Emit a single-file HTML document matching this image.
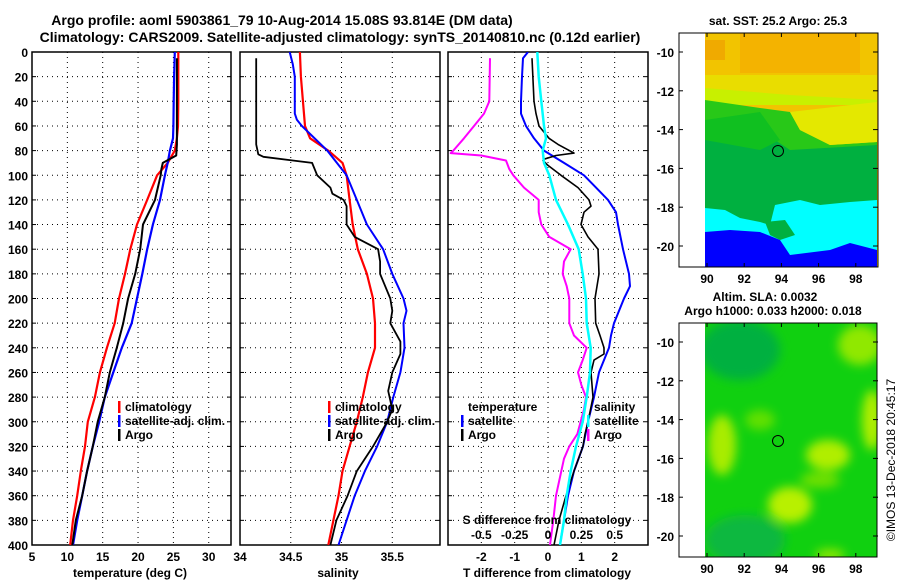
<!DOCTYPE html>
<html><head><meta charset="utf-8"><style>
html,body{margin:0;padding:0;background:#fff;}
svg{display:block;font-family:"Liberation Sans",sans-serif;font-weight:bold;}
</style></head><body>
<svg id="chart" width="900" height="580" viewBox="0 0 900 580" xmlns="http://www.w3.org/2000/svg">
<defs>
<filter id="blur4" x="-30%" y="-30%" width="160%" height="160%"><feGaussianBlur stdDeviation="5"/></filter>
<clipPath id="clipTop"><rect x="705" y="33" width="173" height="234"/></clipPath>
<clipPath id="clipBot"><rect x="705" y="323" width="172" height="234"/></clipPath>
<clipPath id="c1"><rect x="32" y="52" width="199" height="493"/></clipPath>
<clipPath id="c2"><rect x="240" y="52" width="200" height="493"/></clipPath>
<clipPath id="c3"><rect x="448" y="52" width="200" height="493"/></clipPath>
</defs>
<text x="282" y="25" font-size="14" text-anchor="middle">Argo profile: aoml 5903861_79 10-Aug-2014 15.08S 93.814E (DM data)</text>
<text x="340" y="42" font-size="14" text-anchor="middle">Climatology: CARS2009. Satellite-adjusted climatology: synTS_20140810.nc (0.12d earlier)</text>

<g>
<text x="778" y="25" font-size="12" text-anchor="middle">sat. SST: 25.2 Argo: 25.3</text>
<g clip-path="url(#clipTop)">
<rect x="705" y="33" width="173" height="234" fill="#f2c400"/>
<rect x="740" y="33" width="120" height="40" fill="#f5a800" opacity="0.6"/>
<rect x="705" y="40" width="20" height="20" fill="#f0a000" opacity="0.7"/>
<polygon points="705,75 877,75 877,100 705,100" fill="#e6e400" opacity="0.8"/>
<polygon points="705,88 790,95 877,100 877,105 705,105" fill="#c8f000"/>
<polygon points="705,100 760,108 790,112 800,130 830,145 877,142 877,267 705,267" fill="#28c818"/>
<polygon points="790,112 877,102 877,142 830,145 800,130" fill="#e4e800"/>
<polygon points="705,120 760,130 790,150 877,145 877,267 705,267" fill="#00b040"/>
<polygon points="705,120 760,112 780,140 760,150 705,140" fill="#10c020"/>
<polygon points="705,208 725,210 740,218 760,222 770,225 775,205 800,200 820,205 850,202 877,200 877,267 705,267" fill="#00ffff"/>
<polygon points="765,222 785,220 795,235 780,240 770,235" fill="#00b040"/>
<polygon points="705,232 730,230 760,232 780,240 790,255 830,250 850,243 877,250 877,267 705,267" fill="#0000ff"/>
</g>
<rect x="679" y="33" width="199" height="234" fill="none" stroke="#000" stroke-width="1"/>
<circle cx="778" cy="151" r="5.5" fill="none" stroke="#000" stroke-width="1"/>
</g>

<g>
<text x="765" y="301" font-size="12" text-anchor="middle">Altim. SLA: 0.0032</text>
<text x="773" y="315" font-size="12" text-anchor="middle">Argo h1000: 0.033 h2000: 0.018</text>
<g clip-path="url(#clipBot)">
<rect x="705" y="323" width="172" height="234" fill="#10d010"/>
<g filter="url(#blur4)">
<ellipse cx="740" cy="350" rx="40" ry="30" fill="#00b040"/>
<ellipse cx="745" cy="540" rx="40" ry="25" fill="#10b840"/>
<ellipse cx="860" cy="345" rx="22" ry="20" fill="#90e800"/>
<ellipse cx="722" cy="445" rx="14" ry="30" fill="#a8ec00"/>
<ellipse cx="760" cy="420" rx="15" ry="10" fill="#60e000"/>
<ellipse cx="828" cy="455" rx="22" ry="15" fill="#b0ee00"/>
<ellipse cx="872" cy="420" rx="10" ry="30" fill="#b0ee00"/>
<ellipse cx="790" cy="505" rx="22" ry="18" fill="#b8f000"/>
<ellipse cx="820" cy="480" rx="20" ry="8" fill="#70e000"/>
<ellipse cx="830" cy="555" rx="15" ry="6" fill="#90e800"/>
</g>
</g>
<rect x="679" y="323" width="198" height="234" fill="none" stroke="#000" stroke-width="1"/>
<circle cx="778" cy="441" r="5.5" fill="none" stroke="#000" stroke-width="1"/>
</g>
<text transform="translate(895,460) rotate(-90)" font-size="12" font-weight="normal" text-anchor="middle">©IMOS 13-Dec-2018 20:45:17</text>

<g id="plots"></g>
</svg>
<script>
// ---- depth grids and series ----
const depthTicks = [0,20,40,60,80,100,120,140,160,180,200,220,240,260,280,300,320,340,360,380,400];
const tempTicks = [5,10,15,20,25,30];
const salTicks = [34,34.5,35,35.5];
const tdiffTicks = [-2,-1,0,1,2];
const sdiffTicks = [-0.5,-0.25,0,0.25,0.5];
const sdiffTickLabels = ["-0.5","-0.25","0","0.25","0.5"];

const depthTempClim = [0,20,40,60,70,80,90,100,120,140,160,180,200,220,240,260,280,300,320,340,360,380,400];
const tempClim = [25.7,25.7,25.7,25.65,25.5,25.2,24.2,22.7,21.3,19.85,18.9,18.15,17.3,16.7,15.6,14.6,13.9,12.9,12.5,11.9,11.4,10.8,10.4];
const depthTempSat = [0,20,40,60,70,80,90,100,120,140,160,180,200,220,240,260,280,300,320,340,360,380,400];
const tempSat = [25.2,25.1,25.05,25.0,24.95,24.5,24.2,23.8,23.1,22.1,21.3,20.6,19.85,19.1,17.7,16.5,15.3,14.5,13.6,12.8,12.1,11.4,10.8];
const depthTempArgo = [5,40,75,84,90,95,100,120,140,160,180,200,220,240,260,280,300,320,340,360,380,400];
const tempArgo = [25.5,25.5,25.5,25.4,23.5,23.3,23.2,22.4,20.7,20.3,19.6,18.6,17.9,17.0,16.0,15.3,14.3,13.6,12.8,12.1,11.2,10.7];

const depthSalClim = [0,20,60,70,80,90,100,120,140,160,180,200,220,240,260,280,300,320,340,360,380,400];
const salClim = [34.59,34.6,34.64,34.69,34.87,35.01,35.05,35.08,35.11,35.16,35.25,35.31,35.33,35.33,35.26,35.21,35.15,35.08,35.01,34.97,34.92,34.87];
const depthSalSat = [0,10,20,50,55,60,80,100,120,140,160,180,200,210,220,240,260,280,300,320,340,360,380,400];
const salSat = [34.49,34.52,34.54,34.54,34.56,34.61,34.86,35.05,35.15,35.25,35.41,35.5,35.61,35.64,35.61,35.62,35.58,35.51,35.45,35.35,35.23,35.13,35.05,34.97];
const depthSalArgo = [5,75,83,85,88,90,100,110,115,120,125,140,150,160,170,180,200,210,220,235,245,260,275,290,300,320,340,360,380,400];
const salArgo = [34.16,34.16,34.18,34.23,34.52,34.71,34.76,34.89,34.91,35.02,35.05,35.05,35.13,35.36,35.38,35.38,35.48,35.5,35.48,35.58,35.58,35.5,35.46,35.5,35.45,35.31,35.15,35.06,34.95,34.89];

const depthTdSat = [0,5,20,40,50,60,70,80,90,100,110,120,130,140,160,180,190,200,220,230,240,260,280,300,320,340,360,380,400];
const tdiffSat = [-0.6,-0.75,-0.78,-0.81,-0.81,-0.66,-0.42,-0.12,0.48,1.08,1.44,1.8,2.04,2.1,2.25,2.43,2.46,2.28,1.98,1.89,1.83,1.53,1.38,1.2,1.05,0.78,0.6,0.48,0.36];
const depthTdArgo = [5,40,50,60,70,75,82,84,87,88,92,100,110,120,125,130,140,150,160,180,200,220,230,240,245,250,260,280,300,310,320,340,360,380,400];
const tdiffArgo = [-0.48,-0.42,-0.36,-0.27,0.03,0.3,0.78,0.24,-0.12,-0.15,0,0.39,0.9,1.23,1.29,1.08,0.99,1.2,1.5,1.53,1.41,1.43,1.56,1.68,1.68,1.38,1.29,1.35,1.2,1.11,1.05,0.78,0.54,0.33,0.18];
const depthSdSat = [0,20,40,60,70,80,90,100,120,140,160,180,200,220,240,260,280,300,320,340,360,380,400];
const sdiffSat = [-0.08,-0.07,-0.05,-0.03,-0.015,-0.04,-0.03,0.01,0.06,0.15,0.23,0.26,0.285,0.29,0.32,0.315,0.29,0.26,0.21,0.17,0.14,0.12,0.09];
const depthSdArgo = [5,40,50,60,70,80,82,84,88,95,100,110,120,130,140,150,160,170,180,190,200,220,230,240,250,260,270,280,290,310,320,330,340,360,380,400];
const sdiffArgo = [-0.435,-0.44,-0.48,-0.555,-0.63,-0.71,-0.73,-0.5,-0.315,-0.29,-0.26,-0.18,-0.07,-0.07,-0.05,0.01,0.17,0.12,0.11,0.14,0.16,0.16,0.195,0.29,0.26,0.225,0.25,0.285,0.27,0.22,0.16,0.12,0.10,0.06,0.04,0.015];

const mapLatTicks = [-10,-12,-14,-16,-18,-20];
const mapLonTicks = [90,92,94,96,98];

const NS = "http://www.w3.org/2000/svg";
const root = document.getElementById('plots');
function el(tag, attrs, parent){ const e=document.createElementNS(NS,tag); for(const k in attrs) e.setAttribute(k,attrs[k]); (parent||root).appendChild(e); return e; }
const Y0=52, Y1=545;
function yD(d){ return Y0 + d/400*(Y1-Y0); }
const panels = [
  {x0:32,x1:231,v0:5,v1:33.15,clip:'c1'},
  {x0:240,x1:440,v0:34,v1:35.97,clip:'c2'},
  {x0:448,x1:648,v0:-3,v1:3,clip:'c3'}
];
function xP(p,v){ return p.x0 + (v-p.v0)/(p.v1-p.v0)*(p.x1-p.x0); }

function frame(p, xTicks, name){
  const g = el('g',{});
  
  
  depthTicks.forEach(d=>{ if(d>0&&d<400){
    const l=el('line',{x1:p.x0,x2:p.x1,y1:yD(d),y2:yD(d),stroke:'#000','stroke-width':1,'stroke-dasharray':'1,4'},g);
    
    
    el('line',{x1:p.x0,x2:p.x0+4,y1:yD(d),y2:yD(d),stroke:'#000'},g);
    el('line',{x1:p.x1-4,x2:p.x1,y1:yD(d),y2:yD(d),stroke:'#000'},g);
  }});
  xTicks.forEach(v=>{ const x=xP(p,v); if(x>p.x0+1&&x<p.x1-1){
    const l=el('line',{x1:x,x2:x,y1:Y0,y2:Y1,stroke:'#000','stroke-width':1,'stroke-dasharray':'1,4'},g);
    
    
  }});
  const r=el('rect',{x:p.x0,y:Y0,width:p.x1-p.x0,height:Y1-Y0,fill:'none',stroke:'#000','stroke-width':1.5},g);
  
  
  return g;
}
function series(p, depths, vals, scale, color, w, name){
  const pts = depths.map((d,i)=>xP(p,vals[i]*scale).toFixed(1)+','+yD(d).toFixed(1)).join(' ');
  const pl = el('polyline',{points:pts,fill:'none',stroke:color,'stroke-width':w,'stroke-linejoin':'round','clip-path':'url(#'+p.clip+')'});
  
  
}
function text(x,y,s,size,anchor,name){
  const t=el('text',{x:x,y:y,'font-size':size,'text-anchor':anchor||'start'});
  t.textContent=s;
  
  
  return t;
}
function legend(x,y,color,label){
  const b=el('rect',{x:x,y:y-10,width:2.5,height:12,fill:color});
  
  
  if(label) text(x+7,y,label,12,'start','legend-entry');
}

// Panel 1: temperature
frame(panels[0], tempTicks, 'temperature-panel');
depthTicks.forEach(d=>text(28,yD(d)+5,String(d),12,'end','y-tick-label'));
tempTicks.forEach(v=>text(xP(panels[0],v),561,String(v),12,'middle','x-tick-label'));
text(130,577,"temperature (deg C)",12,'middle','x-axis-title');
series(panels[0], depthTempClim, tempClim, 1, '#ff0000', 2.2, 'temp-climatology-line');
series(panels[0], depthTempSat, tempSat, 1, '#0000ff', 2.2, 'temp-satellite-line');
series(panels[0], depthTempArgo, tempArgo, 1, '#000000', 2, 'temp-argo-line');
legend(118,411,'#ff0000','climatology');
legend(118,425,'#0000ff','satellite-adj. clim.');
legend(118,439,'#000000','Argo');

// Panel 2: salinity
frame(panels[1], salTicks, 'salinity-panel');
salTicks.forEach(v=>text(xP(panels[1],v),561,String(v),12,'middle','x-tick-label'));
text(338,577,"salinity",12,'middle','x-axis-title');
series(panels[1], depthSalClim, salClim, 1, '#ff0000', 2.2, 'sal-climatology-line');
series(panels[1], depthSalSat, salSat, 1, '#0000ff', 2, 'sal-satellite-line');
series(panels[1], depthSalArgo, salArgo, 1, '#000000', 1.8, 'sal-argo-line');
legend(328,411,'#ff0000','climatology');
legend(328,425,'#0000ff','satellite-adj. clim.');
legend(328,439,'#000000','Argo');

// Panel 3: differences
frame(panels[2], tdiffTicks, 'difference-panel');
tdiffTicks.forEach(v=>text(xP(panels[2],v),561,String(v),12,'middle','x-tick-label'));
text(547,577,"T difference from climatology",12,'middle','x-axis-title');
series(panels[2], depthSdArgo, sdiffArgo, 4, '#ff00ff', 2, 'sdiff-argo-line');
series(panels[2], depthTdSat, tdiffSat, 1, '#0000ff', 2, 'tdiff-satellite-line');
series(panels[2], depthTdArgo, tdiffArgo, 1, '#000000', 1.6, 'tdiff-argo-line');
series(panels[2], depthSdSat, sdiffSat, 4, '#00ffff', 2.5, 'sdiff-satellite-line');
text(468,411,"temperature",12,'start','legend-title-temperature');
legend(461,425,'#0000ff','satellite');
legend(461,439,'#000000','Argo');
text(594,411,"salinity",12,'start','legend-title-salinity');
legend(587,425,'#00ffff','satellite');
legend(587,439,'#ff00ff','Argo');
text(547,524,"S difference from climatology",12,'middle','s-axis-title');
sdiffTicks.forEach((v,i)=>text(xP(panels[2],v*4),539,sdiffTickLabels[i],12,'middle','s-tick-label'));

// Map axes
function mapAxes(top, bottom, name){
  const latY = lat => top + 19 + (-10-lat)*(bottom-top-40)/10;
  const lonX = lon => 707 + (lon-90)*18.6;
  mapLatTicks.forEach(l=>{
    const y = latY(l);
    text(674,y+5,String(l),12,'end','map-lat-label');
    el('line',{x1:679,x2:683,y1:y,y2:y,stroke:'#000'});
    el('line',{x1:873,x2:878,y1:y,y2:y,stroke:'#000'});
  });
  mapLonTicks.forEach(l=>{
    const x = lonX(l);
    text(x,bottom+16,String(l),12,'middle','map-lon-label');
    el('line',{x1:x,x2:x,y1:bottom-4,y2:bottom,stroke:'#000'});
    el('line',{x1:x,x2:x,y1:top,y2:top+4,stroke:'#000'});
  });
}
mapAxes(33,267,'sst-map-axes');
mapAxes(323,557,'sla-map-axes');
</script>
</body></html>
